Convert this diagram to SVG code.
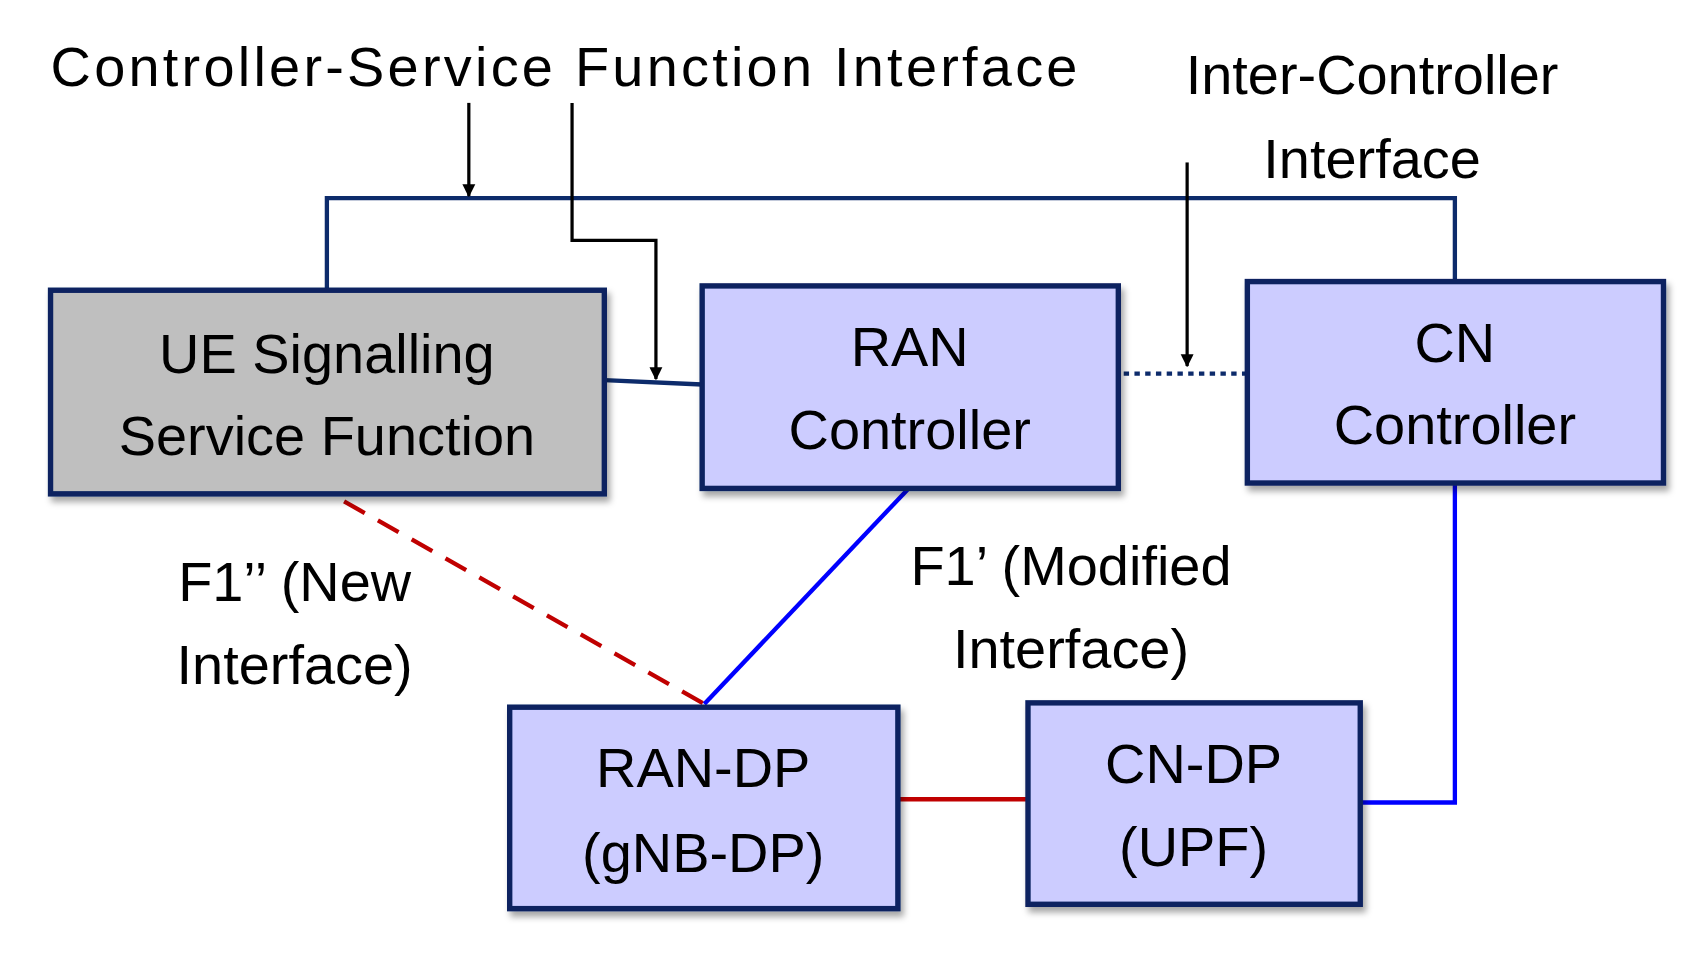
<svg xmlns="http://www.w3.org/2000/svg" width="1686" height="953" viewBox="0 0 1686 953">
<style>
text{font-family:"Liberation Sans",Arial,sans-serif;font-size:52px;fill:#000}
.c{text-anchor:middle}
.box{stroke:#0b2461;stroke-width:5;filter:url(#sh)}
.ctl{fill:#ccccff}
.nv{stroke:#0d2b6b;stroke-width:4;fill:none}
.ar{stroke:#000;stroke-width:3;fill:none;marker-end:url(#ah)}
</style>
<defs>
<marker id="ah" viewBox="0 0 10 10" refX="9" refY="5" markerWidth="4" markerHeight="5" orient="auto" markerUnits="strokeWidth"><path d="M0,0L10,5L0,10z" fill="#000"/></marker>
<filter id="sh" x="-10%" y="-10%" width="130%" height="130%"><feDropShadow dx="3" dy="5" stdDeviation="3" flood-color="#000" flood-opacity="0.35"/></filter>
</defs>
<rect width="1686" height="953" fill="#fff"/>
<g transform="scale(1.0753,1.083)">
<g id="connectors">
<path class="nv" d="M304,268V183H1353V260"/>
<path class="nv" d="M562,351L653,355"/>
<path class="nv" d="M1035,345H1160" stroke-dasharray="5,5"/>
<path d="M320,463L655,650" stroke="#c00000" stroke-width="4" stroke-dasharray="22,14" fill="none"/>
<path d="M845,451L655,650" stroke="#0000ff" stroke-width="4" fill="none"/>
<path d="M1353,446V741H1265" stroke="#0000ff" stroke-width="4" fill="none"/>
<path d="M835,738H956" stroke="#c00000" stroke-width="4" fill="none"/>
<path class="ar" d="M436,95V181"/>
<path class="ar" d="M532,95V222H610V350"/>
<path class="ar" d="M1104,150V338"/>
</g>
<g id="labels">
<text x="47" y="79" textLength="955">Controller-Service Function Interface</text>
<text class="c" x="1276" y="87">Inter-Controller</text>
<text class="c" x="1276" y="164">Interface</text>
<text class="c" x="274" y="555">F1’’ (New</text>
<text class="c" x="274" y="632">Interface)</text>
<text class="c" x="996" y="540">F1’ (Modified</text>
<text class="c" x="996" y="617">Interface)</text>
</g>
<g id="ue"><rect class="box" x="47" y="268" width="515" height="188" fill="#bfbfbf"/>
<text class="c" x="304" y="344">UE Signalling</text><text class="c" x="304" y="420">Service Function</text></g>
<g id="ran-ctrl"><rect class="box ctl" x="653" y="264" width="387" height="187"/>
<text class="c" x="846" y="338">RAN</text><text class="c" x="846" y="415">Controller</text></g>
<g id="cn-ctrl"><rect class="box ctl" x="1160" y="260" width="387" height="186"/>
<text class="c" x="1353" y="334">CN</text><text class="c" x="1353" y="410">Controller</text></g>
<g id="ran-dp"><rect class="box ctl" x="474" y="653" width="361" height="186"/>
<text class="c" x="654" y="727">RAN-DP</text><text class="c" x="654" y="805">(gNB-DP)</text></g>
<g id="cn-dp"><rect class="box ctl" x="956" y="649" width="309" height="186"/>
<text class="c" x="1110" y="723">CN-DP</text><text class="c" x="1110" y="800">(UPF)</text></g>
</g>
</svg>
